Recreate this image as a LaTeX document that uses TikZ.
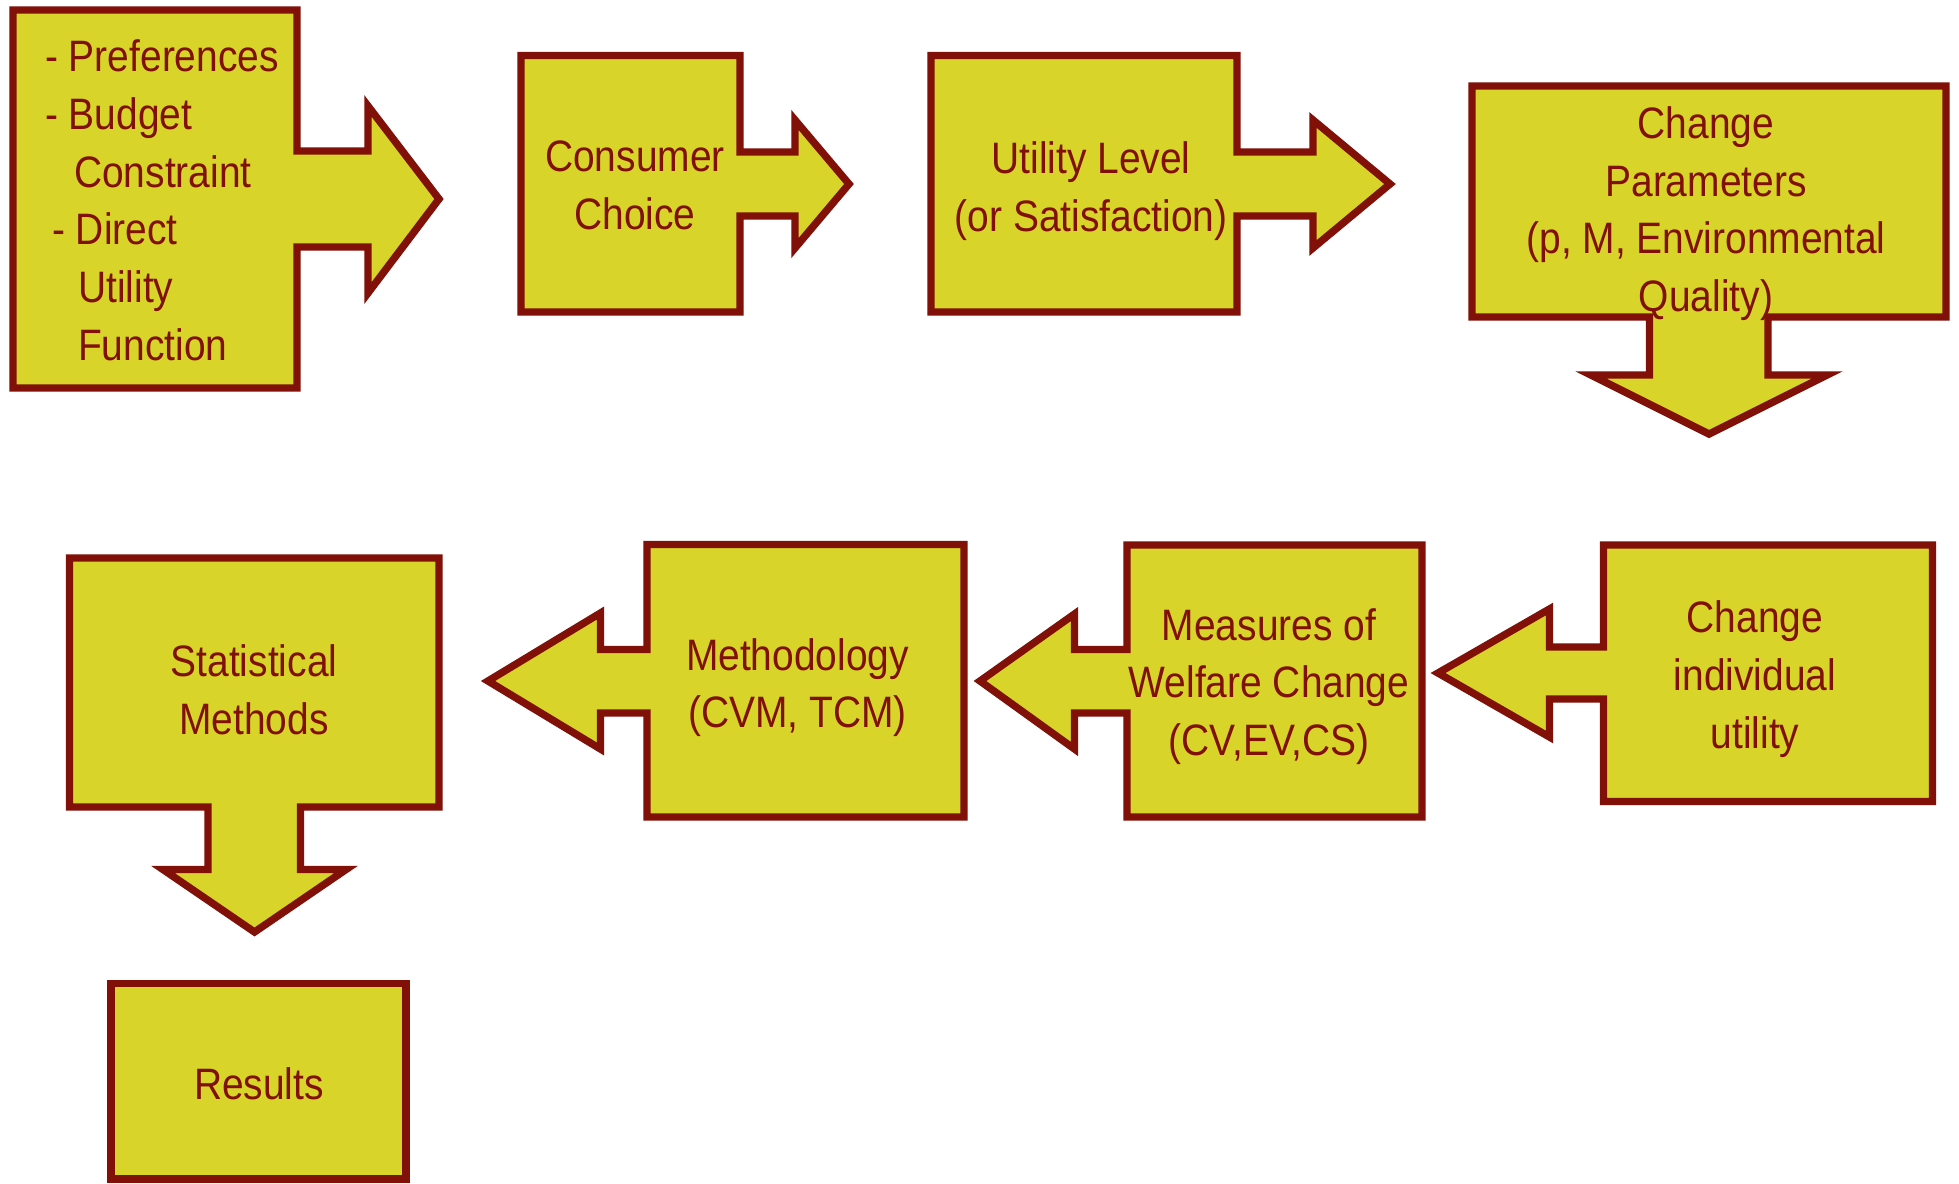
\documentclass[tikz,border=0pt]{standalone}
\usepackage{fontspec}
\setmainfont{Liberation Sans}[FakeStretch=0.885]
\definecolor{edge}{HTML}{801008}
\definecolor{body}{HTML}{D8D42A}
% centred and left-aligned stacks of lines; baseline = first line
\newcommand\stackc[1]{\vtop{\halign{\hfil##\hfil\cr#1\crcr}}}
\newcommand\stackl[1]{\vtop{\halign{##\hfil\cr#1\crcr}}}
\begin{document}
\begin{tikzpicture}[x=1pt,y=-1pt,
  shapebox/.style={draw=edge,fill=body,line width=7.4pt,line join=miter},
  label/.style={text=edge,inner sep=0pt,anchor=base,
    font=\fontsize{44}{57.7}\selectfont}]
\fill[white] (0,0) rectangle (1959,1183);
\useasboundingbox (0,0) rectangle (1959,1183);

% ---- top row: boxes with arrows pointing right / down ----
\draw[shapebox] (13,10) -- (297,10) -- (297,151) -- (368,151) -- (368,106)
  -- (439,199) -- (368,293) -- (368,247) -- (297,247) -- (297,388)
  -- (13,388) -- cycle;
\draw[shapebox] (521,55.5) -- (740,55.5) -- (740,152) -- (795,152) -- (795,120)
  -- (849,184) -- (795,248) -- (795,216) -- (740,216) -- (740,312)
  -- (521,312) -- cycle;
\draw[shapebox] (931,55.5) -- (1237,55.5) -- (1237,152) -- (1313,152) -- (1313,120)
  -- (1390,184) -- (1313,248) -- (1313,216) -- (1237,216) -- (1237,312)
  -- (931,312) -- cycle;
\draw[shapebox] (1472,86) -- (1946,86) -- (1946,317) -- (1768,317) -- (1768,375)
  -- (1827,375) -- (1709,434) -- (1591,375) -- (1649.5,375) -- (1649.5,317)
  -- (1472,317) -- cycle;

% ---- bottom row: boxes with arrows pointing left / down ----
\draw[shapebox] (1932.5,545) -- (1932.5,801.5) -- (1603.5,801.5) -- (1603.5,699) -- (1549.5,699)
  -- (1549.5,737) -- (1438,673) -- (1549.5,609) -- (1549.5,647) -- (1603.5,647)
  -- (1603.5,545) -- cycle;
\draw[shapebox] (1422,545) -- (1422,817) -- (1127,817) -- (1127,713) -- (1074.5,713)
  -- (1074.5,749) -- (980,681) -- (1074.5,614) -- (1074.5,649.5) -- (1127,649.5)
  -- (1127,545) -- cycle;
\draw[shapebox] (964,544.5) -- (964,817) -- (647,817) -- (647,713) -- (600.5,713)
  -- (600.5,749) -- (488,681) -- (600.5,613) -- (600.5,649.5) -- (647,649.5)
  -- (647,544.5) -- cycle;
\draw[shapebox] (69.5,558) -- (439,558) -- (439,807) -- (300.5,807) -- (300.5,869.5)
  -- (346,869.5) -- (254.5,932) -- (163,869.5) -- (208,869.5) -- (208,807)
  -- (69.5,807) -- cycle;
\draw[shapebox] (111,983.5) rectangle (406,1179);

% ---- texts ----
\node[label,anchor=base west] (inputs) at (45,71.7) {\stackl{%
  - Preferences\cr
  - Budget\cr
  \hspace*{29pt}Constraint\cr
  \hspace*{7pt}- Direct\cr
  \hspace*{33pt}Utility\cr
  \hspace*{33pt}Function}};
\node[label] (choice) at (635,171.7) {\stackc{Consumer\cr Choice}};
\node[label] (utility) at (1091,173.3) {\stackc{Utility Level\cr (or Satisfaction)}};
\node[label] (params) at (1706,138.3) {\stackc{Change\cr Parameters\cr
  (p, M, Environmental\cr Quality)}};
\node[label] (indiv) at (1755,632.7) {\stackc{Change\cr individual\cr utility}};
\node[label] (welfare) at (1269,640) {\stackc{Measures of\cr Welfare Change\cr (CV,EV,CS)}};
\node[label] (method) at (797.5,670) {\stackc{Methodology\cr (CVM, TCM)}};
\node[label] (stats) at (254,676.7) {\stackc{Statistical\cr Methods}};
\node[label] (results) at (259,1099.4) {Results};
\end{tikzpicture}
\end{document}
